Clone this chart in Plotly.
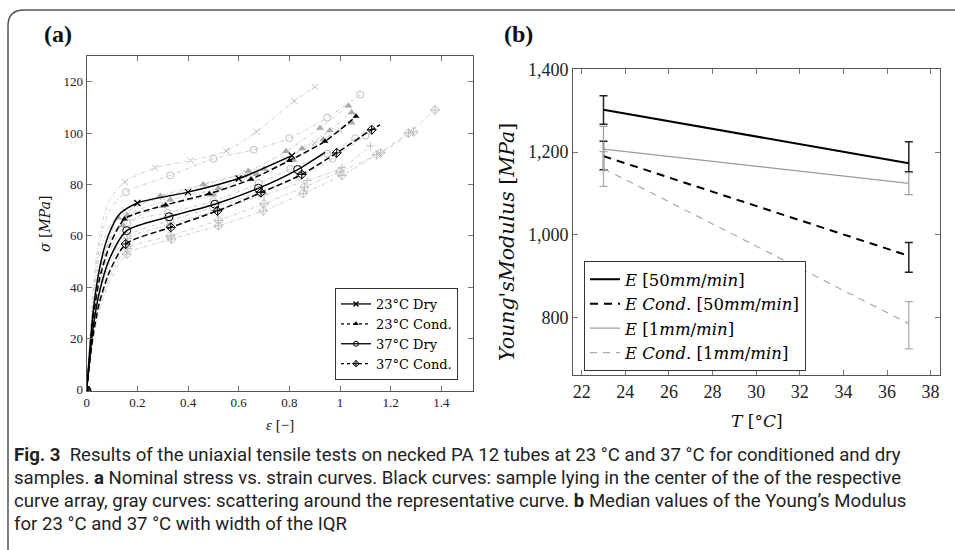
import plotly.graph_objects as go

W, H = 955, 550

# ---------------- data: panel (a) stress-strain curves ----------------
# representative (black) curves
D23_eps = [0, 0.01, 0.025, 0.05, 0.085, 0.13, 0.2, 0.4, 0.6, 0.81]
D23_sig = [0, 13, 30, 47, 60, 68.5, 72.8, 77, 82.3, 91.2]
D23_mk = [0, 6, 7, 8, 9]

C23_eps = [0, 0.01, 0.025, 0.05, 0.09, 0.149, 0.312, 0.484, 0.649, 0.8, 0.941, 1.063]
C23_sig = [0, 11, 27, 43, 56, 66.5, 72, 76.4, 82, 89.3, 96.8, 106.5]
C23_mk = [0, 5, 6, 7, 8, 9, 10, 11]

D37_eps = [0, 0.01, 0.025, 0.05, 0.09, 0.158, 0.325, 0.506, 0.678, 0.833, 0.941]
D37_sig = [0, 10, 24, 38, 51, 62, 67.4, 72.3, 78.5, 85.8, 92.5]
D37_mk = [0, 5, 6, 7, 8, 9]

C37_eps = [0, 0.01, 0.025, 0.05, 0.09, 0.154, 0.332, 0.516, 0.688, 0.849, 0.987, 1.125, 1.158]
C37_sig = [0, 9, 21, 34, 46, 56.8, 63.3, 69.7, 76.8, 83.9, 92.3, 101.3, 103.2]
C37_mk = [0, 5, 6, 7, 8, 9, 10, 11]

# scattering (gray) curves
G1_eps = [0, 0.01, 0.025, 0.05, 0.09, 0.15, 0.27, 0.41, 0.55, 0.67, 0.82, 0.9]
G1_sig = [0, 16, 38, 60, 74, 81, 86.5, 89.3, 93, 100.5, 112.5, 118]
G2_eps = [0, 0.01, 0.025, 0.05, 0.09, 0.155, 0.33, 0.5, 0.66, 0.8, 0.95, 1.08]
G2_sig = [0, 15, 35, 56, 70, 77, 83.5, 90, 93.5, 98, 106, 115]
G3_eps = [0, 0.01, 0.025, 0.05, 0.09, 0.15, 0.3, 0.47, 0.63, 0.78, 0.9, 1.0]
G3_sig = [0, 14, 32, 52, 64, 70, 75, 80, 84.5, 90, 96, 101]
G4_eps = [0, 0.01, 0.025, 0.05, 0.09, 0.125, 0.29, 0.46, 0.638, 0.787, 0.921, 1.033]
G4_sig = [0, 12, 29, 46, 59, 67, 75.5, 80, 85.2, 92.9, 102, 110.6]
G5_eps = [0, 0.01, 0.025, 0.05, 0.09, 0.14, 0.3, 0.5, 0.671, 0.816, 0.934, 1.046]
G5_sig = [0, 11, 27, 44, 57, 64, 71.5, 76, 84, 89.5, 97.5, 104]
G6_eps = [0, 0.01, 0.025, 0.05, 0.09, 0.16, 0.33, 0.52, 0.7, 0.85, 0.96, 1.046]
G6_sig = [0, 12, 28, 45, 58, 68, 74, 78.5, 86, 94, 101, 108]
G7_eps = [0, 0.01, 0.025, 0.05, 0.09, 0.16, 0.32, 0.5, 0.68, 0.803, 0.95, 1.06]
G7_sig = [0, 11, 26, 41, 54, 65, 69, 73.5, 80.5, 86, 92, 98]
G8_eps = [0, 0.01, 0.025, 0.05, 0.09, 0.16, 0.33, 0.52, 0.7, 0.87, 1.007, 1.12]
G8_sig = [0, 10, 23, 37, 49, 59, 64.5, 70, 76, 81.5, 86.5, 95]
G9_eps = [0, 0.01, 0.025, 0.05, 0.09, 0.158, 0.335, 0.52, 0.697, 0.855, 1.007, 1.145, 1.27, 1.375]
G9_sig = [0, 8, 19, 31, 42, 52.9, 58.7, 63.9, 69.7, 76.5, 83.5, 91.6, 100, 109]
G10_eps = [0, 0.01, 0.025, 0.05, 0.09, 0.16, 0.33, 0.52, 0.7, 0.86, 1.0, 1.16, 1.29]
G10_sig = [0, 9, 20, 33, 44, 55, 60, 66, 72.5, 79, 85, 92.3, 100.5]
G11_eps = [0, 0.01, 0.025, 0.05, 0.09, 0.16, 0.33, 0.5, 0.68, 0.84, 0.97, 1.1]
G11_sig = [0, 10, 24, 39, 51, 60, 66, 71, 77, 83, 90, 99]
GRAY_GROUP = ["D23", "D37", "D23", "C23", "C23", "C23", "D37", "P", "C37", "C37", "D37"]
GRAY_EPS = [G1_eps, G2_eps, G3_eps, G4_eps, G5_eps, G6_eps, G7_eps, G8_eps, G9_eps, G10_eps, G11_eps]
GRAY_SIG = [G1_sig, G2_sig, G3_sig, G4_sig, G5_sig, G6_sig, G7_sig, G8_sig, G9_sig, G10_sig, G11_sig]

A_LEGEND = ["23°C Dry", "23°C Cond.", "37°C Dry", "37°C Cond."]
A_XTICKS = [0, 0.2, 0.4, 0.6, 0.8, 1, 1.2, 1.4]
A_XTICKTEXT = ["0", "0.2", "0.4", "0.6", "0.8", "1", "1.2", "1.4"]
A_YTICKS = [0, 20, 40, 60, 80, 100, 120]

# ---------------- data: panel (b) Young's modulus ----------------
T = [23, 37]
E50 = [1302, 1173]
E50_hi = [1336, 1225]
E50_lo = [1267, 1152]
EC50 = [1190, 949]
EC50_hi = [1226, 981]
EC50_lo = [1157, 909]
E1 = [1207, 1124]
E1_hi = [1262, 1150]
E1_lo = [1155, 1097]
EC1 = [1160, 785]
EC1_hi = [1201, 838]
EC1_lo = [1117, 724]
B_LEGEND = ["<i>E</i> [50<i>mm</i>/<i>min</i>]",
            "<i>E Cond.</i> [50<i>mm</i>/<i>min</i>]",
            "<i>E</i> [1<i>mm</i>/<i>min</i>]",
            "<i>E Cond.</i> [1<i>mm</i>/<i>min</i>]"]
B_XTICKS = [22, 24, 26, 28, 30, 32, 34, 36, 38]
B_YTICKS = [800, 1000, 1200, 1400]


def px(x):
    return x / W


def py(y):
    return 1 - y / H


SERIF = "Liberation Serif, Times New Roman, serif"
WSERIF = "DejaVu Serif, Liberation Serif, serif"
fig = go.Figure()

# ---- gray curves ----
gstyle = {
    "D23": dict(symbol="x-thin-open", size=6, line=dict(color="#bdbdbd", width=1), color="#bdbdbd"),
    "C23": dict(symbol="triangle-up", size=7, color="#aaaaaa", line=dict(width=0)),
    "D37": dict(symbol="circle-open", size=7, color="#c0c0c0", line=dict(color="#c0c0c0", width=1)),
    "C37": dict(symbol="diamond-cross-open", size=7, color="#c0c0c0", line=dict(color="#c0c0c0", width=1)),
    "P": dict(symbol="cross-thin-open", size=6, color="#c0c0c0", line=dict(color="#c0c0c0", width=1)),
}
for grp, ex, sg in zip(GRAY_GROUP, GRAY_EPS, GRAY_SIG):
    fig.add_trace(go.Scatter(x=ex, y=sg, mode="lines", line=dict(color="#cdcdcd", width=1, dash="4px,2px,1px,2px",
                                                                   shape="spline", smoothing=0.7),
                             showlegend=False, hoverinfo="skip", xaxis="x", yaxis="y"))
    mk = [0] + list(range(5, len(ex)))
    fig.add_trace(go.Scatter(x=[ex[i] for i in mk], y=[sg[i] for i in mk], mode="markers",
                             marker=gstyle[grp], showlegend=False, hoverinfo="skip", xaxis="x", yaxis="y"))

# ---- black curves ----
black = [
    (D23_eps, D23_sig, D23_mk, "solid", dict(symbol="x-thin-open", size=6, color="black", line=dict(color="black", width=1.3))),
    (C23_eps, C23_sig, C23_mk, "6px,3px", dict(symbol="triangle-up", size=6, color="black", line=dict(width=0))),
    (D37_eps, D37_sig, D37_mk, "solid", dict(symbol="circle-open", size=8, color="black", line=dict(color="black", width=1))),
    (C37_eps, C37_sig, C37_mk, "6px,3px", dict(symbol="diamond-cross-open", size=7, color="black", line=dict(color="black", width=1))),
]
for (ex, sg, mk, dash, mstyle), name in zip(black, A_LEGEND):
    fig.add_trace(go.Scatter(x=ex, y=sg, mode="lines", line=dict(color="black", width=1.5, dash=dash,
                                                                   shape="spline", smoothing=0.7),
                             showlegend=False, hoverinfo="skip", xaxis="x", yaxis="y"))
    fig.add_trace(go.Scatter(x=[ex[i] for i in mk], y=[sg[i] for i in mk], mode="markers",
                             marker=mstyle, showlegend=False, hoverinfo="skip", xaxis="x", yaxis="y"))
    lm = dict(mstyle)
    lm["size"] = 5
    fig.add_trace(go.Scatter(x=[None], y=[None], mode="lines+markers", name=name,
                             line=dict(color="black", width=1.3, dash="3px,3px" if dash != "solid" else "solid"),
                             marker=lm, legend="legend", xaxis="x", yaxis="y"))

# ---- panel (b) ----
bstyles = [
    (E50, E50_hi, E50_lo, dict(color="black", width=2), "#222", 1.5),
    (EC50, EC50_hi, EC50_lo, dict(color="black", width=2, dash="8px,6px"), "#222", 1.5),
    (E1, E1_hi, E1_lo, dict(color="#9a9a9a", width=1.2), "#9a9a9a", 1.2),
    (EC1, EC1_hi, EC1_lo, dict(color="#aaaaaa", width=1.2, dash="7px,6px"), "#aaaaaa", 1.2),
]
for (vals, hi, lo, ln, ec, ew), name in zip(bstyles, B_LEGEND):
    fig.add_trace(go.Scatter(
        x=T, y=vals, mode="lines", name=name, line=ln, legend="legend2",
        error_y=dict(type="data", symmetric=False,
                     array=[h - v for h, v in zip(hi, vals)],
                     arrayminus=[v - l for v, l in zip(vals, lo)],
                     color=ec, thickness=ew, width=4),
        xaxis="x2", yaxis="y2"))

axis_common = dict(showline=True, mirror="allticks", linecolor="#555", linewidth=1.2,
                   ticks="inside", ticklen=5, tickcolor="#777", tickwidth=1,
                   showgrid=False, zeroline=False)

fig.update_layout(
    width=W, height=H, margin=dict(l=0, r=0, t=0, b=0, autoexpand=False),
    paper_bgcolor="white", plot_bgcolor="white",
    xaxis=dict(domain=[px(86.7), px(473)], range=[0, 1.525], tickvals=A_XTICKS, ticktext=A_XTICKTEXT,
               tickfont=dict(family=SERIF, size=13, color="#222"), anchor="y", **axis_common),
    yaxis=dict(domain=[py(390.7), py(56)], range=[-0.3, 130], tickvals=A_YTICKS,
               tickfont=dict(family=SERIF, size=13, color="#222"), anchor="x", **axis_common),
    xaxis2=dict(domain=[px(573.3), px(940)], range=[21.615, 38.43], tickvals=B_XTICKS,
                tickfont=dict(family=SERIF, size=18, color="#222"), anchor="y2", **axis_common),
    yaxis2=dict(domain=[py(375.3), py(69.3)], range=[660, 1400], tickvals=B_YTICKS, tickformat=",d",
                tickfont=dict(family=SERIF, size=18, color="#222"), anchor="x2", **axis_common),
    legend=dict(x=px(335), y=py(288), xanchor="left", yanchor="top", bgcolor="white",
                bordercolor="#333", borderwidth=1, font=dict(family=WSERIF, size=13, color="black"),
                tracegroupgap=0, itemwidth=30),
    legend2=dict(x=px(584), y=py(261), xanchor="left", yanchor="top", bgcolor="white",
                 bordercolor="#333", borderwidth=1, font=dict(family=WSERIF, size=16.5, color="black"),
                 tracegroupgap=0, itemwidth=30),
    showlegend=True,
)

ann = []


def txt(text, x, y, size, family=SERIF, angle=0, xa="center"):
    ann.append(dict(text=text, x=px(x), y=py(y), xref="paper", yref="paper", showarrow=False,
                    xanchor=xa, yanchor="middle", textangle=angle,
                    font=dict(family=family, size=size, color="#111")))


txt("<b>(a)</b>", 58, 34, 24)
txt("<b>(b)</b>", 518, 34, 24)
txt("<i>ε</i> [−]", 280, 425, 15)
txt("<i>σ</i> [<i>MPa</i>]", 45, 224, 14, family=WSERIF, angle=-90)
txt("<i>T</i> [°<i>C</i>]", 757, 421, 17, family=WSERIF)
txt("<i>Young'sModulus</i> [<i>MPa</i>]", 507, 242, 20.5, family=WSERIF, angle=-90)

CAP = "Roboto, sans-serif"
cap_lines = [
    "<b>Fig. 3</b>  Results of the uniaxial tensile tests on necked PA 12 tubes at 23 °C and 37 °C for conditioned and dry",
    "samples. <b>a</b> Nominal stress vs. strain curves. Black curves: sample lying in the center of the of the respective",
    "curve array, gray curves: scattering around the representative curve. <b>b</b> Median values of the Young’s Modulus",
    "for 23 °C and 37 °C with width of the IQR",
]
for i, t in enumerate(cap_lines):
    ann.append(dict(text=t, x=px(12), y=py(455 + 23 * i), xref="paper", yref="paper", showarrow=False,
                    xanchor="left", yanchor="middle", font=dict(family=CAP, size=18.6, color="#222")))
fig.update_layout(annotations=ann)

# rounded frame around the figure
fig.add_shape(type="path", xref="paper", yref="paper",
              path=f"M {px(8)},{py(600)} L {px(8)},{py(26)} Q {px(8)},{py(10)} {px(24)},{py(10)} L {px(1000)},{py(10)}",
              line=dict(color="#555", width=1.5))

fig.write_html("out.html",
               post_script="document.body.style.margin='0';document.body.style.overflow='hidden';"
                           "document.documentElement.style.overflow='hidden';")
